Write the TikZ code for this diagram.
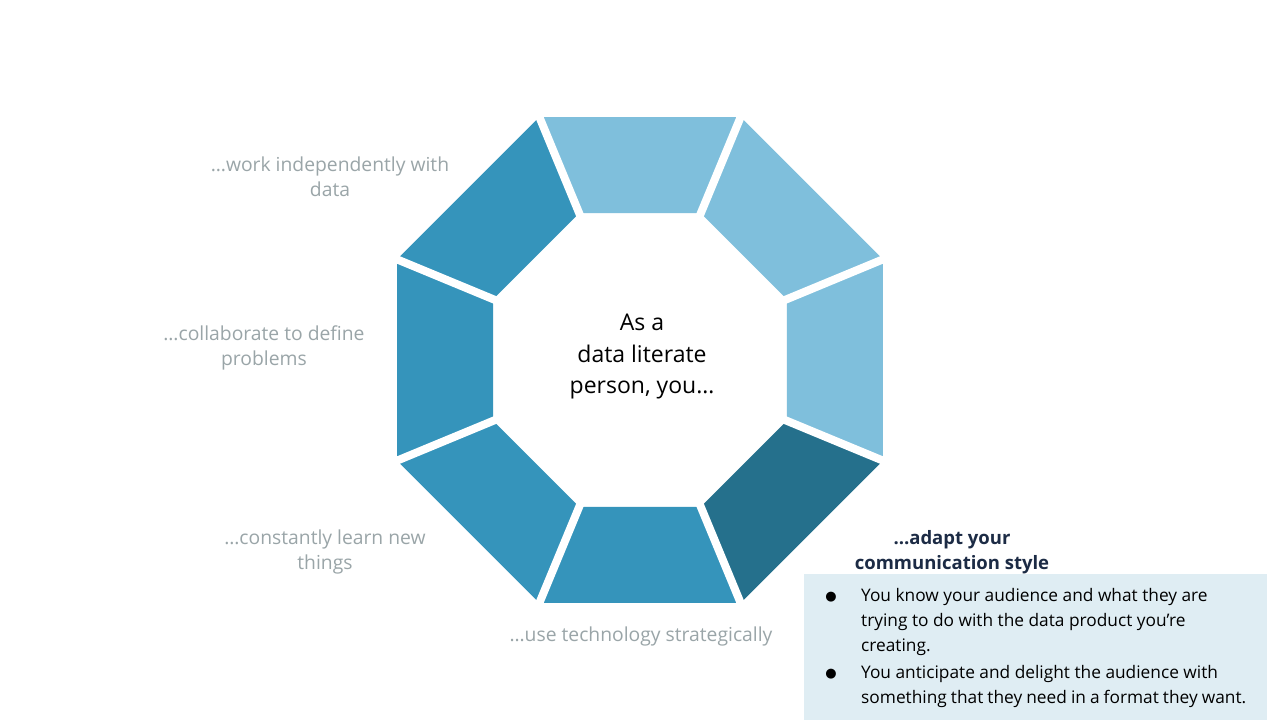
\documentclass[tikz,border=0pt]{standalone}
\usepackage{fontspec}
\usetikzlibrary{calc}
\setmainfont{Open Sans}
\newfontfamily\symfont{DejaVu Sans}
\definecolor{lightb}{HTML}{7FBFDC}
\definecolor{midb}{HTML}{3594BB}
\definecolor{darkb}{HTML}{25708C}
\definecolor{graytx}{HTML}{9AA5A8}
\definecolor{navy}{HTML}{1C2B45}
\definecolor{boxbg}{HTML}{DFEDF3}
\begin{document}
\begin{tikzpicture}[x=1pt,y=-1pt,
  lbl/.style={text=graytx,font=\fontsize{19.3}{25.5}\selectfont,align=center},
  bul/.style={anchor=north west,inner sep=0pt,text width=385pt,font=\fontsize{17.3}{25}\selectfont,align=flush left}]
\useasboundingbox[fill=white] (0,0) rectangle (1280,720);
\coordinate (c) at (640,360);
\def\Ro{263}\def\Ri{159}
\foreach \t/\col in {0/lightb,45/darkb,90/midb,135/midb,180/midb,225/midb,270/lightb,315/lightb}{
  \fill[\col] ($(c)+(\t-22.5:\Ro)$) -- ($(c)+(\t+22.5:\Ro)$) -- ($(c)+(\t+22.5:\Ri)$) -- ($(c)+(\t-22.5:\Ri)$) -- cycle;
}
\foreach \t in {22.5,67.5,...,337.5}{
  \draw[white,line width=8pt] ($(c)+(\t:\Ri-5)$) -- ($(c)+(\t:\Ro+10)$);
}
\node[font=\fontsize{23}{31.5}\selectfont,align=center] (ctr) at (642,357) {As a\\data literate\\person, you…};
\node[lbl] (l1) at (330,177) {…work independently with\\data};
\node[lbl] (l2) at (264,348) {…collaborate to define\\problems};
\node[lbl] (l3) at (325,552) {…constantly learn new\\things};
\node[lbl] (l4) at (641,636) {…use technology strategically};
\node[text=navy,font=\bfseries\fontsize{18.5}{25.5}\selectfont,align=center] (l5) at (952,552) {…adapt your\\communication style};
\fill[boxbg] (804,574) rectangle (1267,720);
\node[font=\symfont\fontsize{13}{13}\selectfont] (b1) at (831,597) {●};
\node[font=\symfont\fontsize{13}{13}\selectfont] (b2) at (831,674) {●};
\node[bul] (t1) at (861,588) {You know your audience and what they are trying to do with the data product you’re creating.};
\node[bul] (t2) at (861,665) {You anticipate and delight the audience with something that they need in a format they want.};
\end{tikzpicture}
\end{document}
